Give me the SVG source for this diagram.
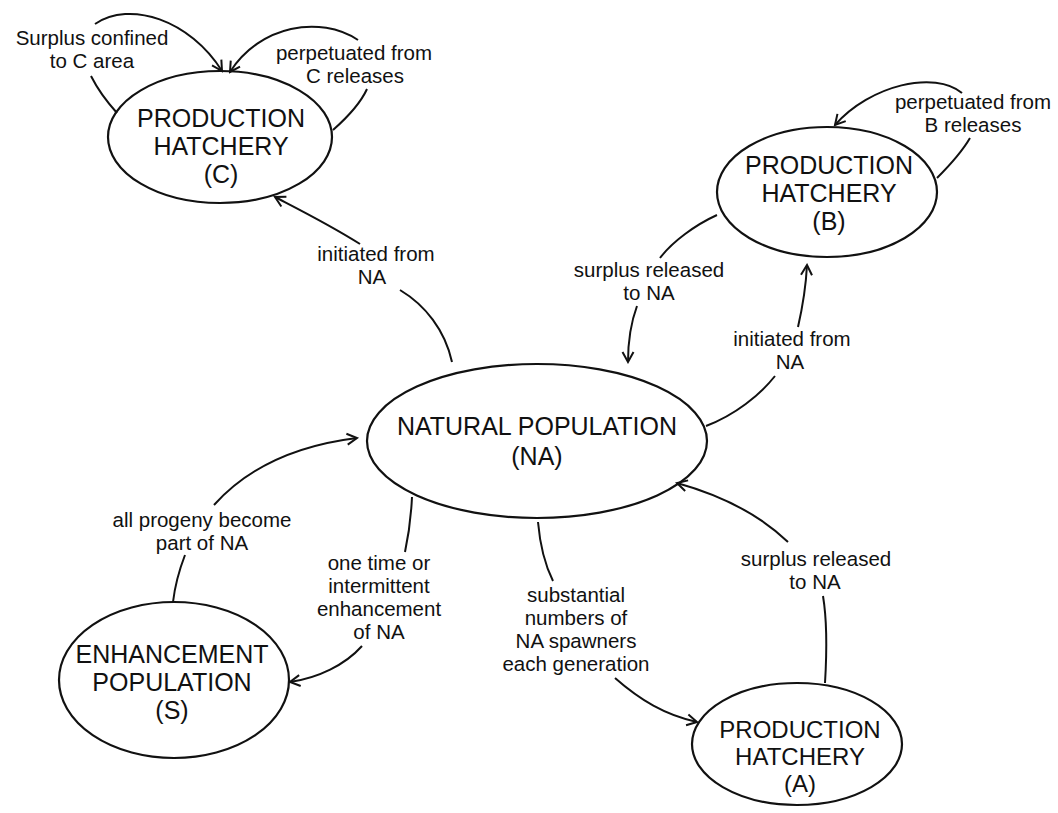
<svg xmlns="http://www.w3.org/2000/svg" width="1058" height="813" viewBox="0 0 1058 813">
<style>
.node ellipse{fill:none;stroke:#111;stroke-width:2.2}
.node text{font-family:"Liberation Sans",Arial,sans-serif;font-size:25px;fill:#111;text-anchor:middle}
#node-A text{font-size:24px}
.lbl{font-family:"Liberation Sans",Arial,sans-serif;font-size:20.5px;fill:#111;text-anchor:middle}
#connectors path{fill:none;stroke:#111;stroke-width:2}
</style>
<defs>
<marker id="arr" markerUnits="userSpaceOnUse" markerWidth="14" markerHeight="14" viewBox="0 0 14 14" refX="12" refY="7" orient="auto">
<path d="M2,1.5 L12,7 L2,12.5" fill="none" stroke="#111" stroke-width="2"/>
</marker>
</defs>
<rect width="1058" height="813" fill="#fff"/>
<g id="connectors">
<path d="M117,113 C108,103 98,90 91,76"/>
<path d="M95,24 C130,0 190,20 222,71" marker-end="url(#arr)"/>
<path d="M333,130 C350,115 362,100 367,89"/>
<path d="M358,40 C320,15 260,25 230,72" marker-end="url(#arr)"/>
<path d="M452,362 C445,330 425,305 400,290"/>
<path d="M360,244 C330,225 300,210 275,197" marker-end="url(#arr)"/>
<path d="M937,178 C950,165 963,150 970,138"/>
<path d="M962,93 C935,70 870,85 835,125" marker-end="url(#arr)"/>
<path d="M717,215 C695,225 672,242 660,258"/>
<path d="M637,306 C630,325 628,345 628,362" marker-end="url(#arr)"/>
<path d="M706,426 C735,415 760,395 775,376"/>
<path d="M798,327 C803,305 806,285 807,265" marker-end="url(#arr)"/>
<path d="M825,683 C827,650 827,620 823,596"/>
<path d="M788,542 C760,515 720,495 677,483" marker-end="url(#arr)"/>
<path d="M538,522 C540,545 545,565 553,581"/>
<path d="M615,678 C640,700 665,715 697,722" marker-end="url(#arr)"/>
<path d="M412,497 C411,518 408,538 405,552"/>
<path d="M362,646 C345,665 318,678 290,682" marker-end="url(#arr)"/>
<path d="M173,602 C175,585 180,568 185,555"/>
<path d="M214,505 C250,465 300,445 357,438" marker-end="url(#arr)"/>
</g>
<g id="labels">
<text class="lbl" y="45"><tspan x="92">Surplus confined</tspan><tspan x="92" dy="23">to C area</tspan></text>
<text class="lbl" y="60"><tspan x="354">perpetuated from</tspan><tspan x="355" dy="23">C releases</tspan></text>
<text class="lbl" y="261"><tspan x="376">initiated from</tspan><tspan x="372" dy="23">NA</tspan></text>
<text class="lbl" y="109"><tspan x="973">perpetuated from</tspan><tspan x="973" dy="23">B releases</tspan></text>
<text class="lbl" y="277"><tspan x="649">surplus released</tspan><tspan x="649" dy="23">to NA</tspan></text>
<text class="lbl" y="346"><tspan x="792">initiated from</tspan><tspan x="790" dy="23">NA</tspan></text>
<text class="lbl" y="527"><tspan x="202">all progeny become</tspan><tspan x="202" dy="23">part of NA</tspan></text>
<text class="lbl" y="570"><tspan x="379">one time or</tspan><tspan x="379" dy="23">intermittent</tspan><tspan x="379" dy="23">enhancement</tspan><tspan x="379" dy="23">of NA</tspan></text>
<text class="lbl" y="602"><tspan x="576">substantial</tspan><tspan x="576" dy="23">numbers of</tspan><tspan x="576" dy="23">NA spawners</tspan><tspan x="576" dy="23">each generation</tspan></text>
<text class="lbl" y="566"><tspan x="816">surplus released</tspan><tspan x="815" dy="23">to NA</tspan></text>
</g>
<g id="node-C" class="node">
<ellipse cx="220" cy="137" rx="112" ry="66"/>
<text y="127"><tspan x="221">PRODUCTION</tspan><tspan x="221" dy="28">HATCHERY</tspan><tspan x="221" dy="28">(C)</tspan></text>
</g>
<g id="node-B" class="node">
<ellipse cx="827" cy="192" rx="110" ry="65"/>
<text y="174"><tspan x="829">PRODUCTION</tspan><tspan x="829" dy="28">HATCHERY</tspan><tspan x="829" dy="28">(B)</tspan></text>
</g>
<g id="node-NA" class="node">
<ellipse cx="537" cy="441" rx="170" ry="77"/>
<text y="435"><tspan x="537">NATURAL POPULATION</tspan><tspan x="537" dy="30">(NA)</tspan></text>
</g>
<g id="node-S" class="node">
<ellipse cx="174" cy="680" rx="115" ry="78"/>
<text y="663"><tspan x="172">ENHANCEMENT</tspan><tspan x="172" dy="28">POPULATION</tspan><tspan x="172" dy="28">(S)</tspan></text>
</g>
<g id="node-A" class="node">
<ellipse cx="797" cy="744" rx="105" ry="61"/>
<text y="738"><tspan x="800">PRODUCTION</tspan><tspan x="800" dy="27">HATCHERY</tspan><tspan x="800" dy="27">(A)</tspan></text>
</g>
</svg>
